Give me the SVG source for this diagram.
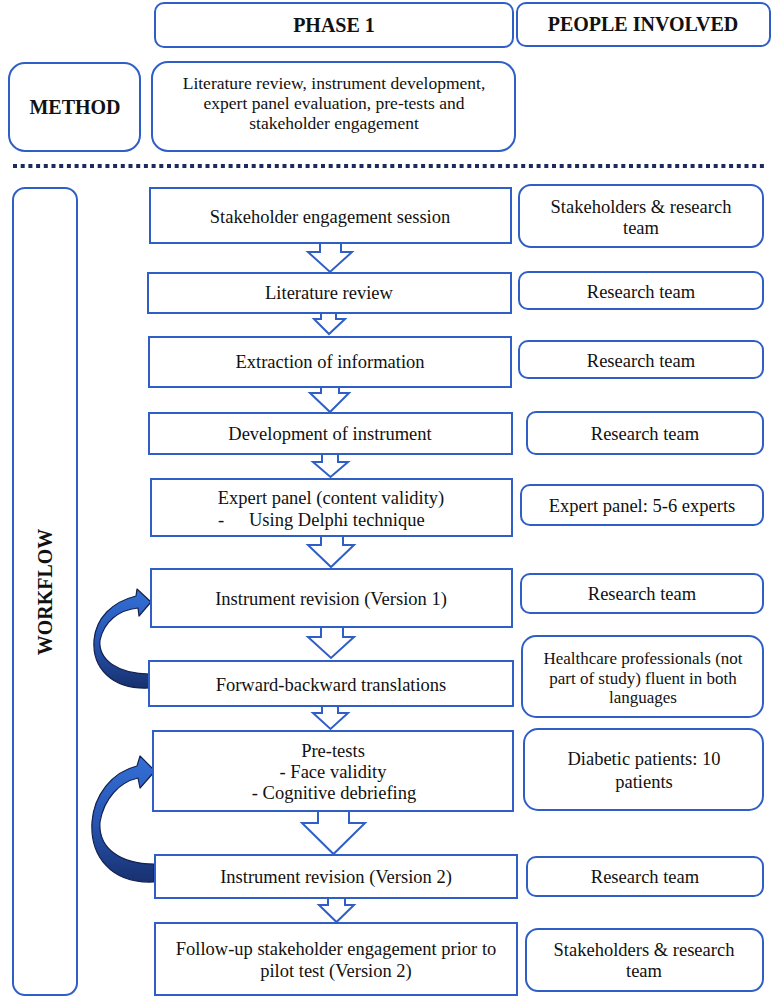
<svg xmlns="http://www.w3.org/2000/svg" width="775" height="1001" viewBox="0 0 775 1001">
<defs>
<style>
.box{fill:#fff;stroke:#2f5fc6;stroke-width:2}
.arr{fill:#fff;stroke:#2f5fc6;stroke-width:2;stroke-linejoin:miter}
.t{font-family:"Liberation Serif","Times New Roman",serif;font-size:18.5px;fill:#111;text-anchor:middle}
.ts{font-family:"Liberation Serif","Times New Roman",serif;font-size:17px;fill:#111;text-anchor:middle}
.tb{font-family:"Liberation Serif","Times New Roman",serif;font-size:20px;font-weight:bold;fill:#111;text-anchor:middle}
.curve{stroke:#14214d;stroke-width:1.2;stroke-linejoin:round}
</style>
<linearGradient id="g1" x1="0" y1="0" x2="0" y2="1">
<stop offset="0" stop-color="#3470d6"/>
<stop offset="0.55" stop-color="#2553b0"/>
<stop offset="1" stop-color="#18306e"/>
</linearGradient>
</defs>
<rect width="775" height="1001" fill="#fff"/>

<g id="hdr-phase"><rect class="box" x="155" y="3" width="358" height="44" rx="9"/><text class="tb" x="334" y="32">PHASE 1</text></g>
<g id="hdr-people"><rect class="box" x="517" y="3" width="253" height="43" rx="9"/><text class="tb" x="643" y="31">PEOPLE INVOLVED</text></g>
<g id="method"><rect class="box" x="9" y="63" width="131" height="88" rx="16"/><text class="tb" x="75" y="114">METHOD</text></g>
<g id="method-desc"><rect class="box" x="152" y="62" width="363" height="89" rx="16"/>
<text class="ts" x="334" y="89" style="font-size:17.5px">Literature review, instrument development,</text>
<text class="ts" x="334" y="109" style="font-size:17.5px">expert panel evaluation, pre-tests and</text>
<text class="ts" x="334" y="129" style="font-size:17.5px">stakeholder engagement</text></g>
<line x1="13" y1="166" x2="767" y2="166" stroke="#1c2a5e" stroke-width="4" stroke-dasharray="4 3.7"/>

<g id="workflow"><rect class="box" x="13" y="188" width="64" height="807" rx="12"/><text class="tb" transform="translate(52 592) rotate(-90)">WORKFLOW</text></g>

<g id="connectors">
<path class="arr" d="M320,243 V252 H308 L330,272 L352,252 H341 V243"/>
<path class="arr" d="M321,313 V319 H314 L329,334 L345,319 H336 V313"/>
<path class="arr" d="M321,387 V393 H310 L330,412 L349,393 H339 V387"/>
<path class="arr" d="M322,454 V462 H313 L330.5,477 L348,462 H338 V454"/>
<path class="arr" d="M321,536 V545 H308 L331,567 L354,545 H343 V536"/>
<path class="arr" d="M321,627 V637 H308 L331,658 L354,637 H343 V627"/>
<path class="arr" d="M322,706 V713 H313 L330.5,729 L348,713 H338 V706"/>
<path class="arr" d="M318,811 V823 H302 L333.5,854 L365,823 H349 V811"/>
<path class="arr" d="M328,898 V905 H319 L336.5,922 L354,905 H345 V898"/>
<path class="curve" fill="url(#g1)" d="M150,688 C112,690 92,668 94,640 C96,618 112,602 136,596 L137,589 L151,602 L139,616 L138,608 C118,610 104,622 100,640 C98,660 118,674 150,674 Z"/>
<path class="curve" fill="url(#g1)" d="M154,882 C110,884 90,855 92,822 C94,795 112,772 137,766 L140,756 L155,771 L140,788 L138,778 C120,782 104,798 100,822 C98,848 120,864 154,864 Z"/>
</g>

<g id="s1"><rect class="box" x="150" y="188" width="361" height="55"/><text class="t" x="330" y="223">Stakeholder engagement session</text></g>
<g id="s2"><rect class="box" x="148" y="273" width="363" height="40"/><text class="t" x="329" y="299">Literature review</text></g>
<g id="s3"><rect class="box" x="149" y="337" width="362" height="50"/><text class="t" x="330" y="368">Extraction of information</text></g>
<g id="s4"><rect class="box" x="149" y="413" width="363" height="41"/><text class="t" x="330" y="440">Development of instrument</text></g>
<g id="s5"><rect class="box" x="151" y="479" width="361" height="57"/><text class="t" x="331" y="504">Expert panel (content validity)</text><text class="t" x="221" y="526">-</text><text class="t" x="249" y="526" style="text-anchor:start">Using Delphi technique</text></g>
<g id="s6"><rect class="box" x="151" y="569" width="361" height="58"/><text class="t" x="331" y="605">Instrument revision (Version 1)</text></g>
<g id="s7"><rect class="box" x="149" y="661" width="364" height="45"/><text class="t" x="331" y="691">Forward-backward translations</text></g>
<g id="s8"><rect class="box" x="153" y="731" width="360" height="80"/><text class="t" x="333" y="757">Pre-tests</text><text class="t" x="333" y="778">- Face validity</text><text class="t" x="334" y="799">- Cognitive debriefing</text></g>
<g id="s9"><rect class="box" x="155" y="855" width="362" height="43"/><text class="t" x="336" y="883">Instrument revision (Version 2)</text></g>
<g id="s10"><rect class="box" x="155" y="923" width="362" height="72"/><text class="t" x="336" y="955">Follow-up stakeholder engagement prior to</text><text class="t" x="336" y="977">pilot test (Version 2)</text></g>

<g id="p1"><rect class="box" x="519" y="185" width="244" height="62" rx="12"/><text class="t" x="641" y="213">Stakeholders &amp; research</text><text class="t" x="641" y="234">team</text></g>
<g id="p2"><rect class="box" x="519" y="272" width="244" height="37" rx="9"/><text class="t" x="641" y="298">Research team</text></g>
<g id="p3"><rect class="box" x="519" y="341" width="244" height="37" rx="9"/><text class="t" x="641" y="367">Research team</text></g>
<g id="p4"><rect class="box" x="527" y="412" width="236" height="42" rx="9"/><text class="t" x="645" y="440">Research team</text></g>
<g id="p5"><rect class="box" x="521" y="485" width="242" height="40" rx="9"/><text class="t" x="642" y="512">Expert panel: 5-6 experts</text></g>
<g id="p6"><rect class="box" x="521" y="574" width="242" height="39" rx="9"/><text class="t" x="642" y="600">Research team</text></g>
<g id="p7"><rect class="box" x="522" y="636" width="241" height="81" rx="14"/><text class="ts" x="643" y="664">Healthcare professionals (not</text><text class="ts" x="643" y="684">part of study) fluent in both</text><text class="ts" x="643" y="703">languages</text></g>
<g id="p8"><rect class="box" x="524" y="729" width="239" height="81" rx="14"/><text class="t" x="644" y="765">Diabetic patients: 10</text><text class="t" x="644" y="788">patients</text></g>
<g id="p9"><rect class="box" x="527" y="857" width="236" height="39" rx="9"/><text class="t" x="645" y="883">Research team</text></g>
<g id="p10"><rect class="box" x="526" y="929" width="237" height="62" rx="12"/><text class="t" x="644" y="956">Stakeholders &amp; research</text><text class="t" x="644" y="977">team</text></g>
</svg>
